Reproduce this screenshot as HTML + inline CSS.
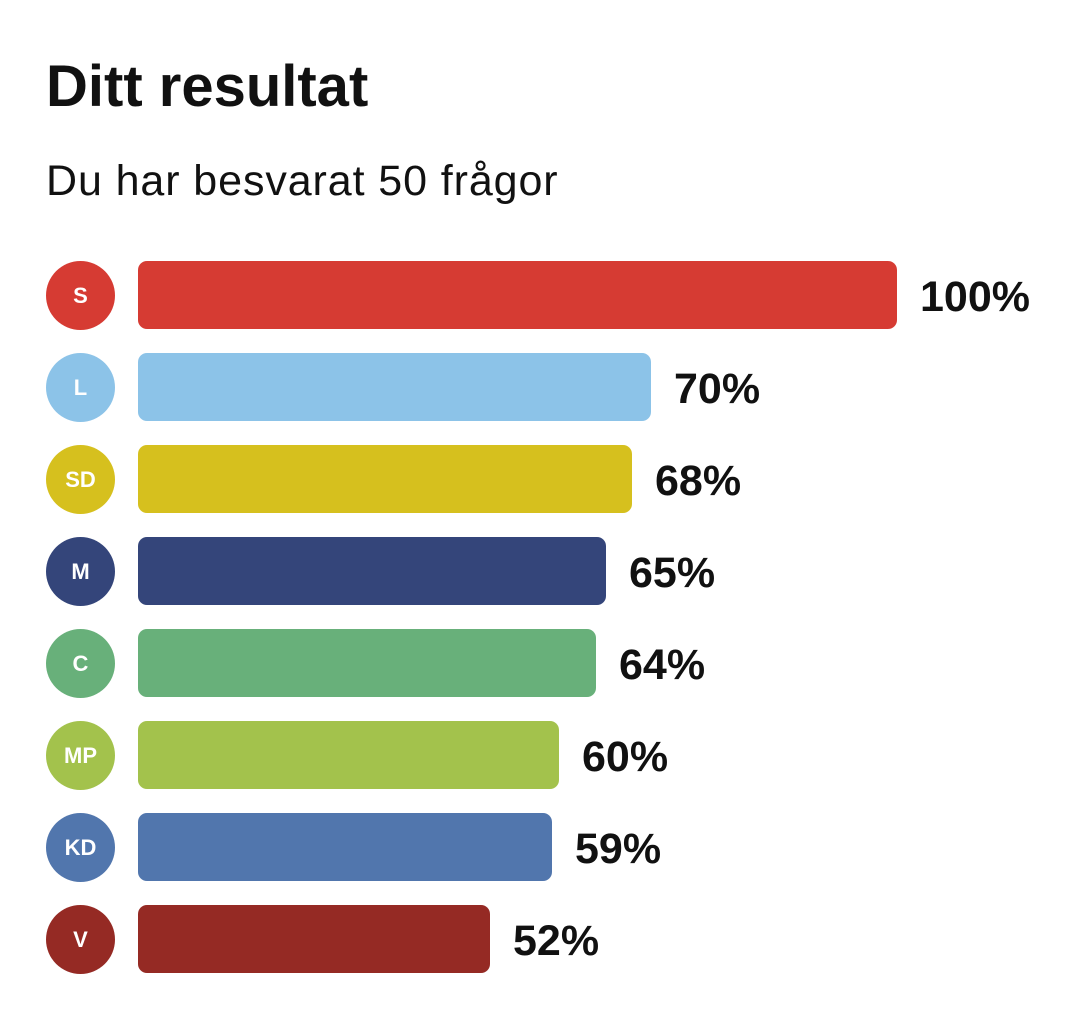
<!DOCTYPE html>
<html><head><meta charset="utf-8"><style>
body{margin:0;width:1080px;height:1014px;background:#fff;position:relative;font-family:"Liberation Sans",Arial,sans-serif;overflow:hidden}
.t{position:absolute;left:46px;top:55px;font-size:58px;font-weight:bold;color:#111;line-height:64px;letter-spacing:0px}
.s{position:absolute;left:46px;top:157px;font-size:43px;color:#111;line-height:48px;letter-spacing:0.9px}
.c{position:absolute;left:46px;width:69px;height:69px;border-radius:50%;color:#fff;font-weight:bold;font-size:22px;line-height:69px;text-align:center}
.b{position:absolute;left:138px;height:68px;border-radius:9px}
.p{position:absolute;font-size:43px;font-weight:bold;color:#111;line-height:68px}
</style></head><body>
<div class="t">Ditt resultat</div>
<div class="s">Du har besvarat 50 frågor</div>

<div class="c" style="top:261px;background:#d63b33">S</div>
<div class="b" style="top:261px;width:759px;background:#d63b33"></div>
<div class="p" style="top:263px;left:920px">100%</div>

<div class="c" style="top:353px;background:#8cc3e8">L</div>
<div class="b" style="top:353px;width:513px;background:#8cc3e8"></div>
<div class="p" style="top:355px;left:674px">70%</div>

<div class="c" style="top:445px;background:#d6c01e">SD</div>
<div class="b" style="top:445px;width:494px;background:#d6c01e"></div>
<div class="p" style="top:447px;left:655px">68%</div>

<div class="c" style="top:537px;background:#34457a">M</div>
<div class="b" style="top:537px;width:468px;background:#34457a"></div>
<div class="p" style="top:539px;left:629px">65%</div>

<div class="c" style="top:629px;background:#68b07a">C</div>
<div class="b" style="top:629px;width:458px;background:#68b07a"></div>
<div class="p" style="top:631px;left:619px">64%</div>

<div class="c" style="top:721px;background:#a3c24c">MP</div>
<div class="b" style="top:721px;width:421px;background:#a3c24c"></div>
<div class="p" style="top:723px;left:582px">60%</div>

<div class="c" style="top:813px;background:#5176ad">KD</div>
<div class="b" style="top:813px;width:414px;background:#5176ad"></div>
<div class="p" style="top:815px;left:575px">59%</div>

<div class="c" style="top:905px;background:#952a24">V</div>
<div class="b" style="top:905px;width:352px;background:#952a24"></div>
<div class="p" style="top:907px;left:513px">52%</div>
</body></html>
